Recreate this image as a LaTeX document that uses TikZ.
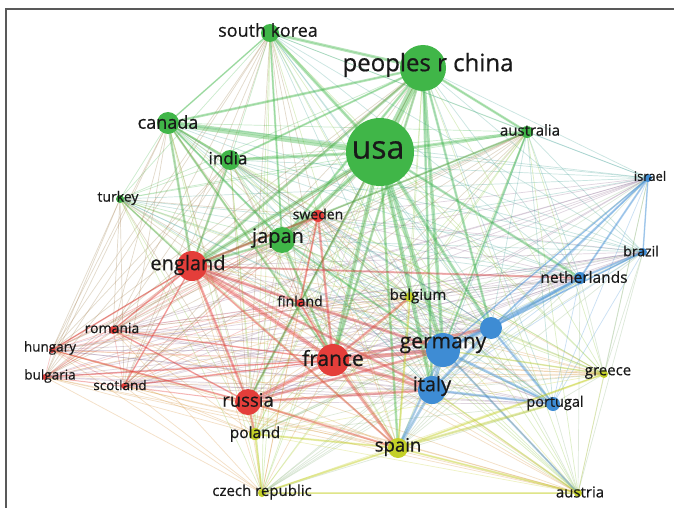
\documentclass[tikz,border=0pt]{standalone}
\usepackage{fontspec}
\usepackage{tikz}
\usetikzlibrary{backgrounds}
\newfontfamily\lblfont[FakeBold=0.6]{Open Sans}

\definecolor{vgreen}{RGB}{64,182,72}
\definecolor{vred}{RGB}{228,62,58}
\definecolor{vblue}{RGB}{62,140,212}
\definecolor{vyellow}{RGB}{196,208,40}
\definecolor{lblgray}{RGB}{25,25,25}

\tikzset{
  dot/.style={circle, inner sep=0pt, minimum size=#1},
  gdot/.style={dot=#1, fill=vgreen},
  rdot/.style={dot=#1, fill=vred},
  bdot/.style={dot=#1, fill=vblue},
  ydot/.style={dot=#1, fill=vyellow},
  lbl/.style={inner sep=0pt, text=lblgray, font={\lblfont\fontsize{#1}{#1}\selectfont}},
  mesh/.style={draw=#1, line width=0.7pt, opacity=0.15},
  tie/.style={draw=#1, opacity=0.38}
}

\begin{document}
\begin{tikzpicture}[x=1pt, y=-1pt]
        \useasboundingbox (0,0) rectangle (674,508);
        % frame
        \draw[line width=1.3pt, black!65] (6,508) -- (6,9) -- (674,9);

        % Green cluster
        \node[gdot=18] (skorea) at (270,33) {};
        \node[gdot=46] (china) at (423,68) {};
        \node[gdot=22] (canada) at (168,123) {};
        \node[gdot=68] (usa) at (380,152) {};
        \node[gdot=20] (india) at (230,160) {};
        \node[gdot=12] (australia) at (527,132) {};
        \node[gdot=8] (turkey) at (120,199) {};
        \node[gdot=26] (japan) at (282,240) {};

        % Red cluster
        \node[rdot=12] (sweden) at (318,216) {};
        \node[rdot=30] (england) at (192,266) {};
        \node[rdot=8] (finland) at (300,303) {};
        \node[rdot=8] (romania) at (113,330) {};
        \node[rdot=6] (hungary) at (52,350) {};
        \node[rdot=32] (france) at (333,360) {};
        \node[rdot=6] (bulgaria) at (45,377) {};
        \node[rdot=6] (scotland) at (124,386) {};
        \node[rdot=26] (russia) at (248,402) {};

        % Blue cluster
        \node[bdot=8] (israel) at (648,178) {};
        \node[bdot=8] (brazil) at (643,252) {};
        \node[bdot=12] (netherlands) at (580,278) {};
        \node[bdot=22] (swiss) at (491,328) {};
        \node[bdot=34] (germany) at (443,350) {};
        \node[bdot=28] (italy) at (432,390) {};
        \node[bdot=14] (portugal) at (553,404) {};

        % Yellow cluster
        \node[ydot=10] (belgium) at (410,297) {};
        \node[ydot=8] (greece) at (604,374) {};
        \node[ydot=12] (poland) at (255,434) {};
        \node[ydot=20] (spain) at (398,448) {};
        \node[ydot=8] (czech) at (262,493) {};
        \node[ydot=8] (austria) at (578,493) {};

        % Links
        \begin{pgfonlayer}{background}
        \foreach \a/\c in {usa/vgreen, china/vgreen, skorea/vgreen, canada/vgreen, india/vgreen,
            australia/vgreen, turkey/vgreen, japan/vgreen, sweden/vred, england/vred, finland/vred,
            romania/vred, hungary/vred, france/vred, bulgaria/vred, scotland/vred, russia/vred,
            israel/vblue, brazil/vblue, netherlands/vblue, swiss/vblue, germany/vblue, italy/vblue,
            portugal/vblue, belgium/vyellow, greece/vyellow, poland/vyellow, spain/vyellow,
            czech/vyellow, austria/vyellow}
          \foreach \b in {usa, china, skorea, canada, india, australia, turkey, japan, sweden,
              england, finland, romania, hungary, france, bulgaria, scotland, russia, israel, brazil,
              netherlands, swiss, germany, italy, portugal, belgium, greece, poland, spain, czech, austria}
            \draw[mesh=\c] (\a.center) -- (\b.center);

        % stronger links
        \foreach \a/\b/\w in {usa/china/7, usa/canada/5.5, usa/germany/4.5, usa/england/4, usa/japan/4,
            usa/france/4, usa/italy/4, usa/skorea/3, usa/australia/3, usa/india/3,
            usa/swiss/3, usa/spain/2.5, usa/netherlands/2.5, usa/russia/2.5, china/skorea/3,
            china/japan/2.5, china/england/2.5, china/germany/3.5, china/canada/2.5, china/australia/2.5,
            china/italy/2.5, china/france/2.5, china/india/2, china/swiss/2.5, canada/england/2.5,
            canada/india/2, canada/japan/2, canada/france/2, japan/england/2.5, japan/france/2.5,
            japan/germany/2, skorea/japan/2, india/england/2, australia/germany/2,
            australia/england/2, skorea/canada/1.5, turkey/england/1.5}
          \draw[tie=vgreen, line width=\w] (\a.center) -- (\b.center);
        \foreach \a/\b/\w in {england/france/4, england/germany/3, england/italy/2.5,
            england/russia/2.5, england/sweden/2.5, england/spain/2, england/netherlands/2,
            france/germany/4, france/italy/3.5, france/russia/3.5, france/spain/3, france/swiss/3,
            france/belgium/2.5, france/sweden/2.5, france/finland/2, russia/germany/2.5, russia/italy/2.5,
            russia/poland/2, russia/spain/2, sweden/finland/2, england/romania/1.5,
            england/scotland/1.5, england/hungary/1.5, romania/france/1.5, scotland/france/1.5,
            bulgaria/france/1.5, romania/russia/1.5, hungary/russia/1.5}
          \draw[tie=vred, line width=\w] (\a.center) -- (\b.center);
        \foreach \a/\b/\w in {germany/italy/4, germany/swiss/3.5, germany/netherlands/3,
            germany/spain/2.5, germany/portugal/2.5, swiss/netherlands/2.5, swiss/italy/3,
            swiss/israel/2, italy/spain/3, italy/portugal/2.5, netherlands/israel/2,
            netherlands/brazil/2, swiss/portugal/2.5, germany/austria/2, israel/brazil/1.5,
            swiss/brazil/1.5, germany/israel/1.5}
          \draw[tie=vblue, line width=\w] (\a.center) -- (\b.center);
        \foreach \a/\b/\w in {spain/portugal/2.5, spain/poland/2, spain/czech/2, spain/austria/2,
            greece/spain/2, belgium/spain/2, poland/czech/2, czech/austria/2, greece/germany/1.5,
            austria/italy/1.5}
          \draw[tie=vyellow, line width=\w] (\a.center) -- (\b.center);
        \end{pgfonlayer}

        % Labels
        \node[lbl=18] (skorea-l) at (268,30) {south korea};
        \node[lbl=24] (china-l) at (428,65) {peoples r china};
        \node[lbl=18] (canada-l) at (168,122) {canada};
        \node[lbl=32] (usa-l) at (378,150) {usa};
        \node[lbl=17] (india-l) at (228,158) {india};
        \node[lbl=15] (australia-l) at (530,130) {australia};
        \node[lbl=13] (israel-l) at (650,176) {israel};
        \node[lbl=14] (turkey-l) at (118,198) {turkey};
        \node[lbl=14] (sweden-l) at (318,214) {sweden};
        \node[lbl=20] (japan-l) at (278,238) {japan};
        \node[lbl=20] (england-l) at (188,265) {england};
        \node[lbl=14] (brazil-l) at (641,251) {brazil};
        \node[lbl=15.5] (netherlands-l) at (584,277) {netherlands};
        \node[lbl=14] (finland-l) at (300,301) {finland};
        \node[lbl=15] (belgium-l) at (418,296) {belgium};
        \node[lbl=14] (romania-l) at (112,328) {romania};
        \node[lbl=13.5] (hungary-l) at (50,348) {hungary};
        \node[lbl=21] (germany-l) at (443,345) {germany};
        \node[lbl=21] (france-l) at (333,358) {france};
        \node[lbl=13.5] (bulgaria-l) at (50,376) {bulgaria};
        \node[lbl=13.5] (scotland-l) at (120,385) {scotland};
        \node[lbl=15] (greece-l) at (608,373) {greece};
        \node[lbl=20] (italy-l) at (432,386) {italy};
        \node[lbl=18.5] (russia-l) at (248,400) {russia};
        \node[lbl=14.5] (portugal-l) at (555,403) {portugal};
        \node[lbl=15.5] (poland-l) at (255,434) {poland};
        \node[lbl=18.5] (spain-l) at (398,447) {spain};
        \node[lbl=15] (czech-l) at (262,492) {czech republic};
        \node[lbl=15] (austria-l) at (580,492) {austria};
\end{tikzpicture}
\end{document}
